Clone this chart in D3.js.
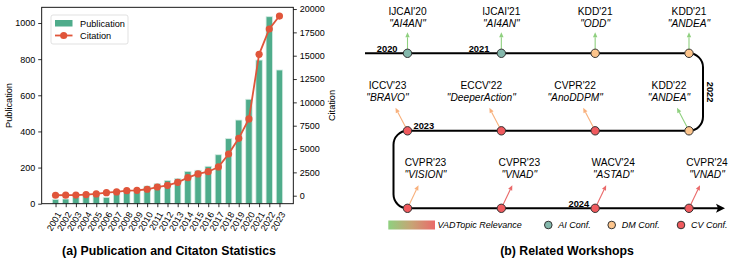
<!DOCTYPE html>
<html>
<head>
<meta charset="utf-8">
<script src="https://cdn.jsdelivr.net/npm/d3@7"></script>
<style>
  body { margin: 0; background: #fff; }
  svg { display: block; font-family: "Liberation Sans", Arial, sans-serif; }
</style>
</head>
<body>
<svg id="chart" width="731" height="259"></svg>
<script>
// ---- data: panel (a) ----
const years = ["2001","2002","2003","2004","2005","2006","2007","2008","2009","2010","2011","2012",
  "2013","2014","2015","2016","2017","2018","2019","2020","2021","2022","2023"];
const publications = [24, 26, 35, 42, 46, 35, 57, 72, 63, 98, 111, 129, 140, 179, 185, 207, 271, 360, 463, 578, 795, 1035, 740];
const citations = [50, 60, 70, 120, 190, 320, 400, 540, 580, 690, 930, 1110, 1430, 1930, 2330, 2570, 3080, 4470, 6150, 8230, 15150, 17860, 19250];
const pubTicks = [0, 200, 400, 600, 800, 1000];
const citTicks = [0, 2500, 5000, 7500, 10000, 12500, 15000, 17500, 20000];

// ---- data: panel (b) ----
const wsVenue = ["IJCAI'20", "IJCAI'21", "KDD'21", "KDD'21",
  "ICCV'23", "ECCV'22", "CVPR'22", "KDD'22",
  "CVPR'23", "CVPR'23", "WACV'24", "CVPR'24"];
const wsTopic = ["AI4AN", "AI4AN", "ODD", "ANDEA",
  "BRAVO", "DeeperAction", "AnoDDPM", "ANDEA",
  "VISION", "VNAD", "ASTAD", "VNAD"];
const wsType = ["AI", "AI", "DM", "DM", "CV", "CV", "CV", "DM", "CV", "CV", "CV", "CV"];
const wsRelevance = [0, 0, 0, 0, 0.5, 0.5, 0.5, 0, 0.5, 1, 1, 1];
const wsRow = [0, 0, 0, 0, 1, 1, 1, 1, 2, 2, 2, 2];
const wsSlot = [0, 1, 2, 3, 0, 1, 2, 3, 0, 1, 2, 3];
const yearLabels = ["2020", "2021", "2022", "2023", "2024"];
const confTypes = ["AI", "DM", "CV"];
const confNames = ["AI Conf.", "DM Conf.", "CV Conf."];

const svg = d3.select("#chart");

// ================= panel (a) =================
const L = { left: 41.7, right: 293.3, top: 7.3, bottom: 203.7 };

const x = d3.scaleLinear().domain([-1.36, 23.36]).range([L.left, L.right]);
const yPub = d3.scaleLinear().domain([0, 1087]).range([L.bottom, L.top]);
const yCit = d3.scaleLinear().domain([-857, 20186]).range([L.bottom, L.top]);

const barColor = "#4fac8b";
const lineColor = "#e0553a";
const barW = 6.4;

const ga = svg.append("g");

ga.append("g")
  .selectAll("rect")
  .data(publications)
  .join("rect")
  .attr("x", (d, i) => x(i) - barW / 2)
  .attr("y", d => yPub(d))
  .attr("width", barW)
  .attr("height", d => yPub(0) - yPub(d))
  .attr("fill", barColor)
  .attr("stroke", "#d5ece3")
  .attr("stroke-width", 0.8);

const line = d3.line()
  .x((d, i) => x(i))
  .y(d => yCit(d));

ga.append("path")
  .datum(citations)
  .attr("d", line)
  .attr("fill", "none")
  .attr("stroke", lineColor)
  .attr("stroke-width", 1.8);

ga.append("g")
  .selectAll("circle")
  .data(citations)
  .join("circle")
  .attr("cx", (d, i) => x(i))
  .attr("cy", d => yCit(d))
  .attr("r", 3.6)
  .attr("fill", lineColor);

// frame
ga.append("rect")
  .attr("x", L.left).attr("y", L.top)
  .attr("width", L.right - L.left).attr("height", L.bottom - L.top)
  .attr("fill", "none").attr("stroke", "#000").attr("stroke-width", 0.9);

// axes
const axisFont = 9;
const leftAxis = ga.append("g")
  .attr("transform", `translate(${L.left},0)`)
  .call(d3.axisLeft(yPub).tickValues(pubTicks).tickFormat(d3.format("d"))
    .tickSize(3.5).tickPadding(3).tickSizeOuter(0));
const rightAxis = ga.append("g")
  .attr("transform", `translate(${L.right},0)`)
  .call(d3.axisRight(yCit).tickValues(citTicks).tickFormat(d3.format("d"))
    .tickSize(3.5).tickPadding(3).tickSizeOuter(0));
const bottomAxis = ga.append("g")
  .attr("transform", `translate(0,${L.bottom})`)
  .call(d3.axisBottom(x).tickValues(d3.range(years.length)).tickFormat(i => years[i])
    .tickSize(3.5).tickSizeOuter(0));

[leftAxis, rightAxis, bottomAxis].forEach(a => {
  a.select(".domain").remove();
  a.selectAll("text").attr("font-size", axisFont).attr("font-family", "Liberation Sans, Arial, sans-serif").attr("fill", "#000");
  a.selectAll("line").attr("stroke", "#000").attr("stroke-width", 0.8);
});

bottomAxis.selectAll("text")
  .attr("text-anchor", "end")
  .attr("y", 0)
  .attr("dy", "0.35em")
  .attr("transform", "translate(3,9) rotate(-60)");

ga.append("text")
  .attr("transform", `translate(8.5,${(L.top + L.bottom) / 2}) rotate(-90)`)
  .attr("text-anchor", "middle")
  .attr("dy", "0.35em")
  .attr("font-size", 9.2)
  .text("Publication");

ga.append("text")
  .attr("transform", `translate(332,${(L.top + L.bottom) / 2}) rotate(-90)`)
  .attr("text-anchor", "middle")
  .attr("dy", "0.35em")
  .attr("font-size", 9.2)
  .text("Citation");

// legend
const lg = ga.append("g");
lg.append("rect")
  .attr("x", 51).attr("y", 15).attr("width", 77).attr("height", 29)
  .attr("rx", 2).attr("fill", "#fff").attr("stroke", "#d9d9d9").attr("stroke-width", 0.8);
lg.append("rect")
  .attr("x", 55).attr("y", 20).attr("width", 17.5).attr("height", 6.5)
  .attr("fill", barColor);
lg.append("text")
  .attr("x", 80).attr("y", 23.5).attr("dy", "0.35em")
  .attr("font-size", 9.2).text("Publication");
lg.append("line")
  .attr("x1", 55).attr("x2", 72.5).attr("y1", 35.5).attr("y2", 35.5)
  .attr("stroke", lineColor).attr("stroke-width", 1.8);
lg.append("circle")
  .attr("cx", 63.7).attr("cy", 35.5).attr("r", 3.6).attr("fill", lineColor);
lg.append("text")
  .attr("x", 80).attr("y", 35.5).attr("dy", "0.35em")
  .attr("font-size", 9.2).text("Citation");

ga.append("text")
  .attr("x", 169).attr("y", 251).attr("dy", "0.35em")
  .attr("text-anchor", "middle")
  .attr("font-size", 12.3).attr("font-weight", "bold")
  .text("(a) Publication and Citaton Statistics");

// ================= panel (b) =================
const gb = svg.append("g");

const sx = d3.scaleLinear().domain([0, 3]).range([407.5, 689]);
const ry = d3.scaleLinear().domain([0, 2]).range([53.3, 208.3]);

const relColor = d3.scaleLinear().domain([0, 0.5, 1]).range(["#8fd07f", "#f8b07c", "#ea6a6a"]);
const nodeColor = d3.scaleOrdinal().domain(confTypes).range(["#84b8ac", "#fdc58c", "#f05a5e"]);

gb.append("defs").html(`
  <linearGradient id="relGrad" x1="0" x2="1" y1="0" y2="0">
    <stop offset="0" stop-color="${relColor(0)}"/>
    <stop offset="0.5" stop-color="#c7a475"/>
    <stop offset="1" stop-color="${relColor(1)}"/>
  </linearGradient>
`);

// timeline path
const r = 14;
const xL = 365, xRight = sx(3), xLeft = sx(0), xEnd = 718;
const y0 = ry(0), y1 = ry(1), y2 = ry(2);
const p = d3.path();
p.moveTo(xL, y0);
p.lineTo(xRight, y0);
p.arcTo(xRight + r, y0, xRight + r, y0 + r, r);
p.lineTo(xRight + r, y1 - r);
p.arcTo(xRight + r, y1, xRight, y1, r);
p.lineTo(xLeft, y1);
p.arcTo(xLeft - r, y1, xLeft - r, y1 + r, r);
p.lineTo(xLeft - r, y2 - r);
p.arcTo(xLeft - r, y2, xLeft, y2, r);
p.lineTo(xEnd, y2);
gb.append("path")
  .attr("d", p.toString())
  .attr("fill", "none").attr("stroke", "#000").attr("stroke-width", 2);

// end arrowhead
gb.append("path")
  .attr("d", d3.line()([[xEnd - 2, y2 - 4.5], [xEnd + 7, y2], [xEnd - 2, y2 + 4.5], [xEnd, y2]]) + "Z")
  .attr("fill", "#000");

// year labels
const yearPos = [
  { x: sx(0) - 10, y: y0 - 1.5, anchor: "end" },
  { x: sx(1) - 12, y: y0 - 1.5, anchor: "end" },
  { x: xRight + r + 7, y: (y0 + y1) / 2, anchor: "middle", rot: 90 },
  { x: sx(0) + 6, y: y1 - 1.5, anchor: "start" },
  { x: sx(2) - 6, y: y2 - 1.5, anchor: "end" }
];
gb.append("g")
  .selectAll("text")
  .data(yearLabels)
  .join("text")
  .attr("transform", (d, i) => `translate(${yearPos[i].x},${yearPos[i].y})` + (yearPos[i].rot ? ` rotate(${yearPos[i].rot})` : ""))
  .attr("text-anchor", (d, i) => yearPos[i].anchor)
  .attr("dy", (d, i) => yearPos[i].rot ? "0.35em" : 0)
  .attr("font-size", 9.3).attr("font-weight", "bold")
  .text(d => d);

// annotation arrows
const arrowVec = [[0, -21], [-12, -23], [11, -23]];
const nodeR = 4.2;
const idx = d3.range(wsVenue.length);

const arrows = gb.append("g");
idx.forEach(i => {
  const cx = sx(wsSlot[i]), cy = ry(wsRow[i]);
  const [dx, dy] = arrowVec[wsRow[i]];
  const len = Math.hypot(dx, dy);
  const ux = dx / len, uy = dy / len;
  const col = relColor(wsRelevance[i]);
  const tipX = cx + dx, tipY = cy + dy;
  const headL = 5, headW = 2.2;
  const bx = tipX - ux * headL, by = tipY - uy * headL;
  arrows.append("line")
    .attr("x1", cx + ux * nodeR).attr("y1", cy + uy * nodeR)
    .attr("x2", bx).attr("y2", by)
    .attr("stroke", col).attr("stroke-width", 1.1);
  arrows.append("path")
    .attr("d", d3.line()([[tipX, tipY], [bx - uy * headW, by + ux * headW], [bx + uy * headW, by - ux * headW]]) + "Z")
    .attr("fill", col);
});

// nodes
gb.append("g")
  .selectAll("circle")
  .data(idx)
  .join("circle")
  .attr("cx", i => sx(wsSlot[i]))
  .attr("cy", i => ry(wsRow[i]))
  .attr("r", nodeR)
  .attr("fill", i => nodeColor(wsType[i]))
  .attr("stroke", "#333").attr("stroke-width", 1);

// workshop labels
const labelOff = [[0, -41.5, -29.5], [-20, -45, -33], [18, -45.5, -34]];
const labels = gb.append("g").attr("text-anchor", "middle").attr("font-size", 10.2);
idx.forEach(i => {
  const [ox, oy1, oy2] = labelOff[wsRow[i]];
  const lx = sx(wsSlot[i]) + ox, yy = ry(wsRow[i]);
  labels.append("text")
    .attr("x", lx).attr("y", yy + oy1).attr("dy", "0.35em")
    .text(wsVenue[i]);
  labels.append("text")
    .attr("x", lx).attr("y", yy + oy2).attr("dy", "0.35em")
    .attr("font-style", "italic")
    .text(`"${wsTopic[i]}"`);
});

// legend
const lb = gb.append("g");
lb.append("rect")
  .attr("x", 388.3).attr("y", 220.5).attr("width", 46.7).attr("height", 9)
  .attr("fill", "url(#relGrad)");
lb.append("text")
  .attr("x", 437.5).attr("y", 225).attr("dy", "0.35em")
  .attr("font-size", 9).attr("font-style", "italic")
  .text("VADTopic Relevance");
const legX = [548.3, 611.7, 681];
confTypes.forEach((t, i) => {
  lb.append("circle")
    .attr("cx", legX[i]).attr("cy", 225).attr("r", 3.8)
    .attr("fill", nodeColor(t)).attr("stroke", "#333").attr("stroke-width", 1);
  lb.append("text")
    .attr("x", legX[i] + 10).attr("y", 225).attr("dy", "0.35em")
    .attr("font-size", 9).attr("font-style", "italic")
    .text(confNames[i]);
});

gb.append("text")
  .attr("x", 567).attr("y", 251).attr("dy", "0.35em")
  .attr("text-anchor", "middle")
  .attr("font-size", 12.3).attr("font-weight", "bold")
  .text("(b) Related Workshops");
</script>
</body>
</html>
